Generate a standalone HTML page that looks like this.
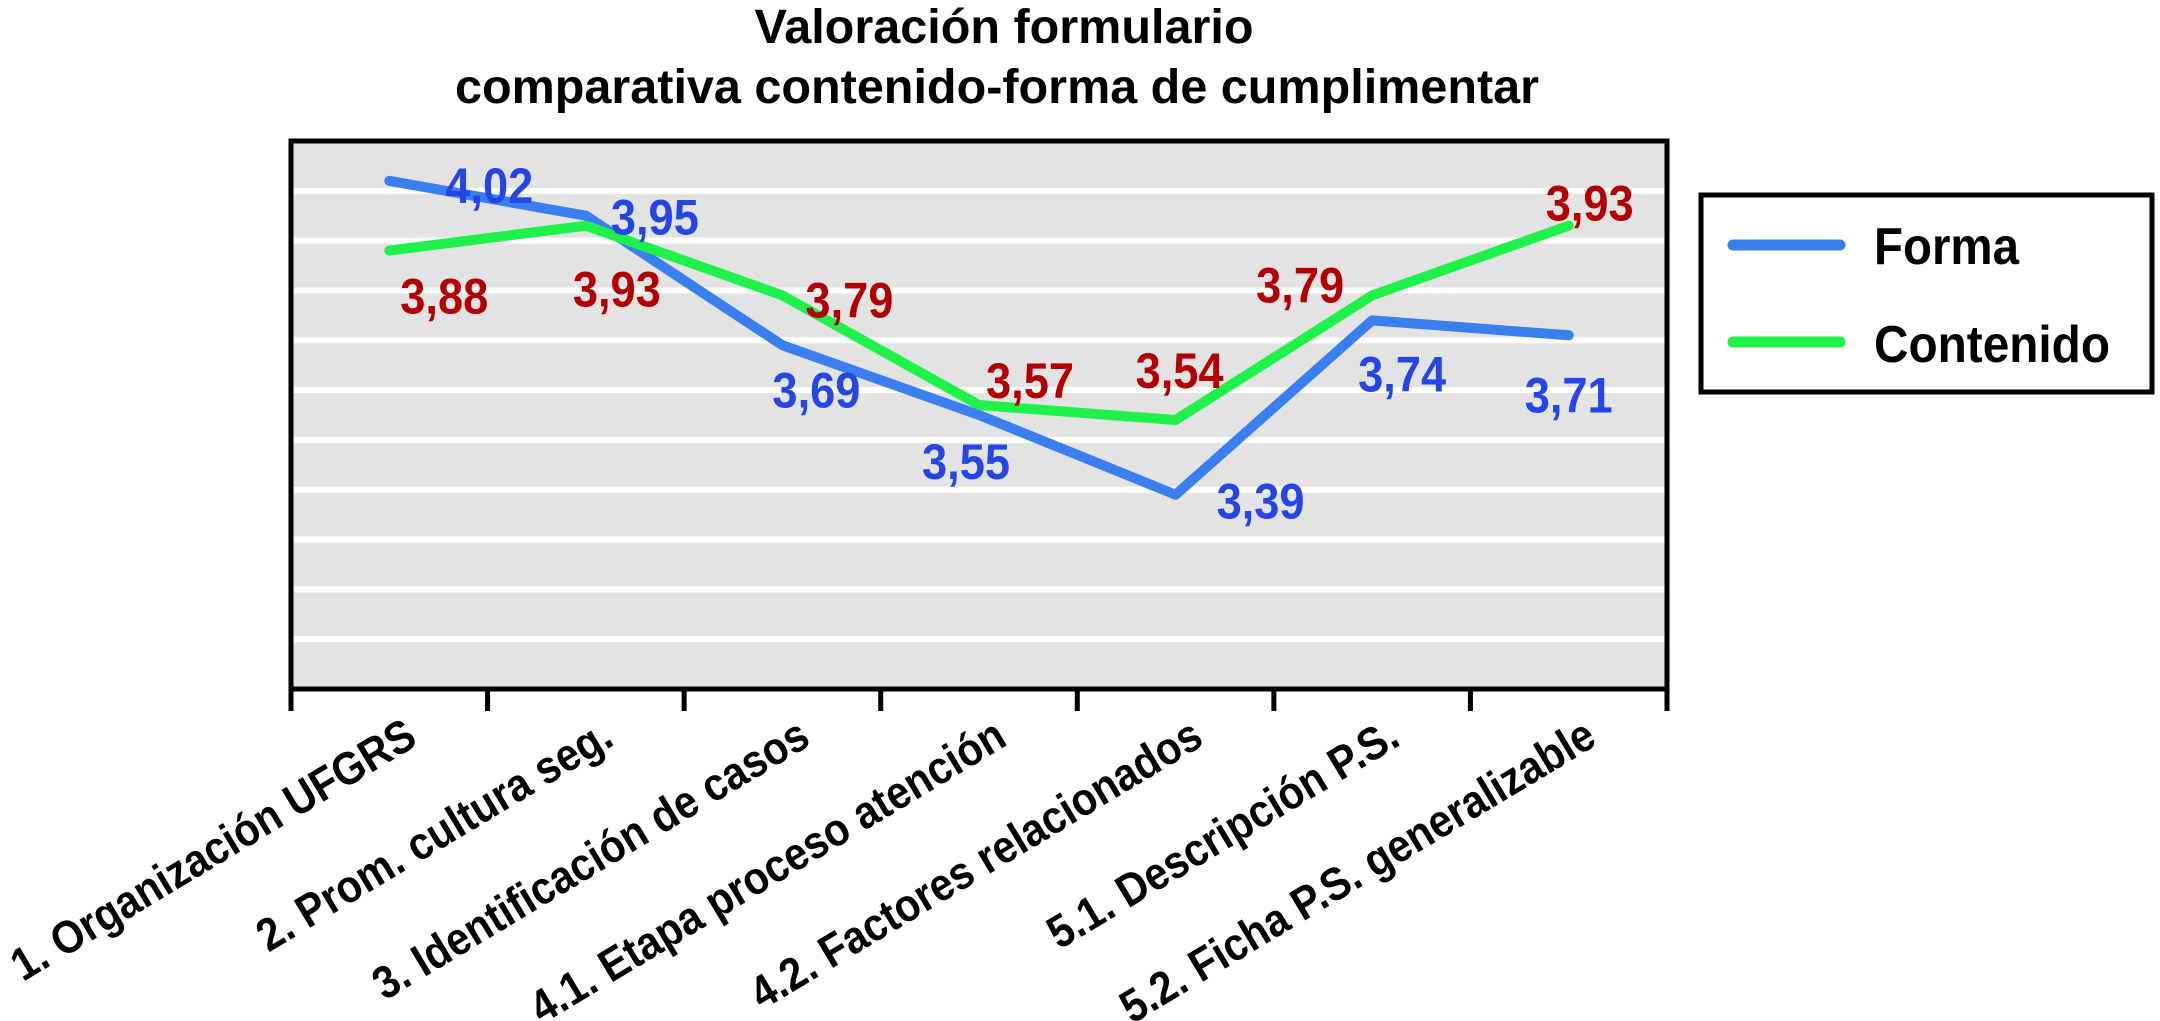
<!DOCTYPE html>
<html><head><meta charset="utf-8"><style>
html,body{margin:0;padding:0;background:#fff;}
svg{display:block;font-family:"Liberation Sans",Arial,sans-serif;}
</style></head><body>
<svg id="chart" width="2160" height="1021" viewBox="0 0 2160 1021">
<text x="1004" y="43" text-anchor="middle" font-size="48" font-weight="bold" textLength="499" lengthAdjust="spacingAndGlyphs">Valoración formulario</text>
<text x="997" y="103" text-anchor="middle" font-size="48" font-weight="bold" textLength="1084" lengthAdjust="spacingAndGlyphs">comparativa contenido-forma de cumplimentar</text>
<rect x="291" y="141" width="1376" height="548" fill="#e3e3e3"/>
<g id="grid"></g>
<g id="lines"></g>
<g id="labels"></g>
<rect x="291" y="141" width="1376" height="548" fill="none" stroke="#000" stroke-width="5"/>
<g id="xaxis"></g>
<g>
<rect x="1701" y="195" width="451" height="197" fill="#fff" stroke="#000" stroke-width="5"/>
<line x1="1733" y1="245" x2="1840" y2="245" stroke="#3a7ff0" stroke-width="11" stroke-linecap="round"/>
<text x="1874" y="264" font-size="52" font-weight="bold" textLength="145" lengthAdjust="spacingAndGlyphs">Forma</text>
<line x1="1733" y1="342" x2="1840" y2="342" stroke="#1ef24a" stroke-width="11" stroke-linecap="round"/>
<text x="1874" y="362" font-size="52" font-weight="bold" textLength="236" lengthAdjust="spacingAndGlyphs">Contenido</text>
</g>
</svg>
<script>
const categories = ["1. Organización UFGRS","2. Prom. cultura seg.","3. Identificación de casos","4.1. Etapa proceso atención","4.2. Factores relacionados","5.1. Descripción P.S.","5.2. Ficha P.S. generalizable"];
const formaValues = [4.02,3.95,3.69,3.55,3.39,3.74,3.71];
const contenidoValues = [3.88,3.93,3.79,3.57,3.54,3.79,3.93];
const gridValues = [4.0,3.9,3.8,3.7,3.6,3.5,3.4,3.3,3.2,3.1];
const formaLabelOffsets = [[100,5],[69,2],[34,45],[-13,47],[85,7],[30,54],[0,60]];
const contenidoLabelOffsets = [[55,46],[31,64],[67,5],[51,-24],[4,-49],[-72,-10],[21,-22]];

const NS="http://www.w3.org/2000/svg";
const X0=291,W=1376,Y0=141,H=548,YMIN=3.0,YMAX=4.1;
const band=W/categories.length;
function xPos(i){return X0+band*(i+0.5);}
function yPos(v){return Y0+(YMAX-v)/(YMAX-YMIN)*H;}
function fmt(v){return v.toFixed(2).replace('.',',');}
function mk(tag,attrs,parent){const e=document.createElementNS(NS,tag);for(const k in attrs)e.setAttribute(k,attrs[k]);parent.appendChild(e);return e;}

const grid=document.getElementById('grid');
gridValues.forEach(v=>{
  const l=mk('line',{x1:X0,x2:X0+W,y1:yPos(v),y2:yPos(v),stroke:'#fff','stroke-width':6},grid);
  
  
});

const lines=document.getElementById('lines');
function drawSeries(vals,color,name){
  const pts=vals.map((v,i)=>xPos(i)+','+yPos(v)).join(' ');
  const p=mk('polyline',{points:pts,fill:'none',stroke:color,'stroke-width':10,'stroke-linejoin':'round','stroke-linecap':'round'},lines);
  
  
}
drawSeries(formaValues,'#3a7ff0','forma-line');
drawSeries(contenidoValues,'#1ef24a','contenido-line');

const labels=document.getElementById('labels');
function drawLabels(vals,offs,color,name){
  vals.forEach((v,i)=>{
    const t=mk('text',{x:xPos(i)+offs[i][0],y:yPos(v)+offs[i][1],'text-anchor':'middle','dominant-baseline':'central','font-size':50,'font-weight':'bold',fill:color,textLength:88,lengthAdjust:'spacingAndGlyphs'},labels);
    t.textContent=fmt(v);
    
    
  });
}
drawLabels(formaValues,formaLabelOffsets,'#2446e6','forma-value-label');
drawLabels(contenidoValues,contenidoLabelOffsets,'#b40000','contenido-value-label');

const xa=document.getElementById('xaxis');
for(let k=0;k<=categories.length;k++){
  const x=X0+band*k;
  const t=mk('line',{x1:x,x2:x,y1:Y0+H,y2:Y0+H+22,stroke:'#000','stroke-width':5},xa);
  
  
}
categories.forEach((c,i)=>{
  const x=xPos(i)+30,y=744;
  const t=mk('text',{x:x,y:y,'text-anchor':'end','font-size':40,'font-weight':'bold',transform:'rotate(-31 '+x+' '+y+')'},xa);
  t.textContent=c;
  
  
  const len=t.getComputedTextLength();
  t.setAttribute('font-size','46');
  t.setAttribute('textLength',(len*1.03).toFixed(1));
  t.setAttribute('lengthAdjust','spacingAndGlyphs');
});
</script>
</body></html>
